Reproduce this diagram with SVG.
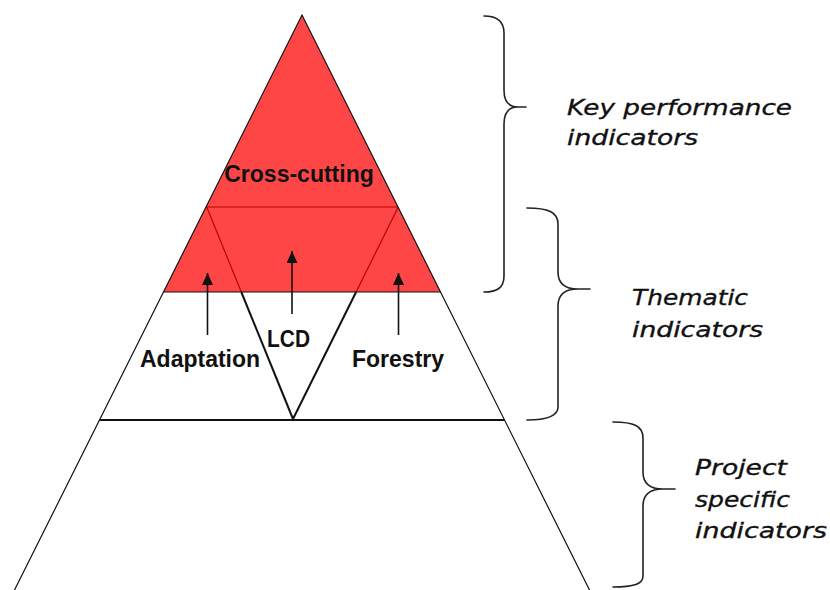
<svg xmlns="http://www.w3.org/2000/svg" width="830" height="590" viewBox="0 0 830 590">
<defs>
<style>
.outline{fill:none;stroke:#111;stroke-width:1.2}
.redline{fill:none;stroke:#c00000;stroke-width:1.2}
.thick{fill:none;stroke:#111;stroke-width:2}
.brace{fill:none;stroke:#222;stroke-width:1.6;stroke-linecap:round}
.lbl{font-family:"Liberation Sans",Arial,sans-serif;font-weight:bold;font-size:23px;fill:#111}
.side{font-family:"DejaVu Sans",Verdana,sans-serif;font-style:italic;font-size:22px;fill:#111;stroke:#111;stroke-width:0.35}
.arrow{stroke:#111;stroke-width:1.6;fill:none}
</style>
<marker id="ah" viewBox="0 0 12 11" refX="12" refY="5.5" markerWidth="12" markerHeight="11" markerUnits="userSpaceOnUse" orient="auto">
<path d="M0,0 L12,5.5 L0,11 Z" fill="#111"/>
</marker>
</defs>
<rect width="830" height="590" fill="#fff"/>

<g id="tier-kpi">
<polygon points="302,15 163.5,292 440.5,292" fill="#ff4646"/>
<line class="redline" x1="206" y1="207" x2="398" y2="207"/>
<text class="lbl" x="299" y="182" text-anchor="middle" fill="#1a0000">Cross-cutting</text>
</g>

<g id="tier-thematic">
<line class="redline" x1="206.7" y1="207" x2="241.3" y2="292"/>
<line class="redline" x1="398.3" y1="207" x2="356.1" y2="292"/>
<line class="thick" x1="241.3" y1="292" x2="293" y2="419"/>
<line class="thick" x1="356.1" y1="292" x2="293" y2="419"/>
<line class="outline" x1="163.5" y1="292" x2="440.5" y2="292"/>
<text class="lbl" x="140" y="367">Adaptation</text>
<text class="lbl" x="267" y="347" textLength="43" lengthAdjust="spacingAndGlyphs">LCD</text>
<text class="lbl" x="352" y="367">Forestry</text>
</g>

<g id="tier-project">
<line class="thick" x1="99.5" y1="420" x2="504.5" y2="420" style="stroke-width:1.8"/>
</g>

<g id="pyramid-outline">
<polyline class="outline" points="13.5,592 302,15 590.5,592"/>
</g>

<g id="connectors">
<line class="arrow" x1="207.5" y1="335" x2="207.5" y2="273" marker-end="url(#ah)"/>
<line class="arrow" x1="292" y1="314" x2="292" y2="251" marker-end="url(#ah)"/>
<line class="arrow" x1="398.5" y1="335" x2="398.5" y2="273" marker-end="url(#ah)"/>
</g>

<g id="brace-kpi">
<path class="brace" d="M484,16 C497,16 504,21 504,33 L504,90 C504,101 509,107 518,107 L526,107 M518,107 C509,107 504,113 504,124 L504,276 C504,288 497,292 484,292"/>
<text class="side" x="567" y="115" textLength="225" lengthAdjust="spacingAndGlyphs">Key performance</text>
<text class="side" x="567" y="145" textLength="131" lengthAdjust="spacingAndGlyphs">indicators</text>
</g>

<g id="brace-thematic">
<path class="brace" d="M527,208 C548,208 558,212 558,224 L558,272 C558,283 564,289 578,289 L590,289 M578,289 C564,289 558,295 558,306 L558,407 C558,416 548,420 527,420"/>
<text class="side" x="632" y="305" textLength="116" lengthAdjust="spacingAndGlyphs">Thematic</text>
<text class="side" x="632" y="337" textLength="131" lengthAdjust="spacingAndGlyphs">indicators</text>
</g>

<g id="brace-project">
<path class="brace" d="M613,422 C634,422 643,426 643,438 L643,472 C643,483 649,489 663,489 L675,489 M663,489 C649,489 643,495 643,506 L643,576 C643,584 634,587 613,587"/>
<text class="side" x="695" y="475" textLength="92" lengthAdjust="spacingAndGlyphs">Project</text>
<text class="side" x="695" y="507" textLength="95" lengthAdjust="spacingAndGlyphs">specific</text>
<text class="side" x="695" y="538" textLength="132" lengthAdjust="spacingAndGlyphs">indicators</text>
</g>
</svg>
